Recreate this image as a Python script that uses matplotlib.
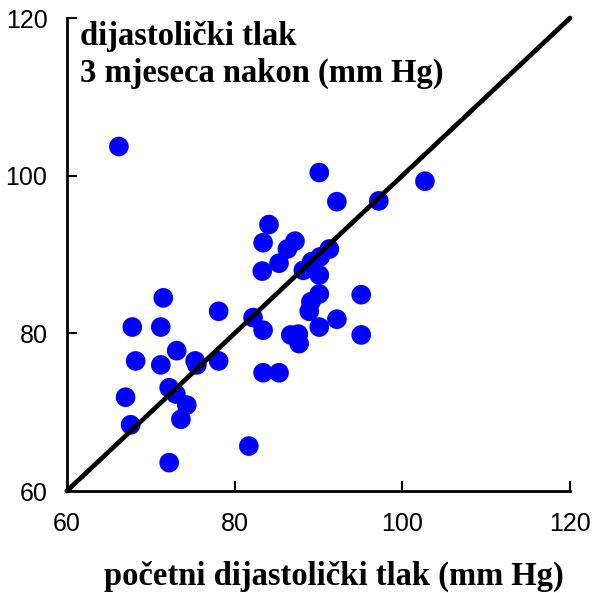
import matplotlib
matplotlib.use("Agg")
import matplotlib.pyplot as plt

# baseline diastolic pressure (x) and 3 months later (y), mm Hg
baseline = [66.2, 90.1, 102.7, 92.2, 97.2, 84.1, 83.4, 87.2, 86.3, 85.3,
            83.3, 88.2, 89.2, 90.2, 91.3, 90.1, 90.1, 89.1, 88.9, 95.1,
            82.2, 83.4, 92.2, 90.1, 86.7, 87.6, 87.7, 95.1, 71.5, 78.1,
            67.8, 71.2, 68.2, 71.2, 73.1, 75.3, 75.5, 78.1, 83.4, 85.3,
            67.0, 67.6, 72.2, 73.0, 74.3, 73.6, 81.7, 72.2]
after3m = [103.7, 100.4, 99.3, 96.7, 96.8, 93.8, 91.5, 91.7, 90.7, 88.9,
           87.9, 88.0, 89.1, 89.7, 90.7, 87.4, 85.0, 84.0, 82.8, 84.9,
           82.0, 80.4, 81.8, 80.8, 79.8, 79.9, 78.7, 79.8, 84.5, 82.8,
           80.8, 80.8, 76.5, 76.0, 77.8, 76.5, 76.0, 76.5, 75.0, 75.0,
           71.9, 68.4, 73.1, 72.3, 70.9, 69.1, 65.7, 63.6]

ticks = [60, 80, 100, 120]
tick_labels = ["60", "80", "100", "120"]
identity = [60, 120]

ylabel_lines = ["dijastolički tlak", "3 mjeseca nakon (mm Hg)"]
xlabel = "početni dijastolički tlak (mm Hg)"

W, H = 608, 593
fig = plt.figure(figsize=(W / 100, H / 100), dpi=100)
ax = fig.add_axes([0.110, 0.172, 0.8275, 0.7976])

ax.scatter(baseline, after3m, s=200, color="#0000FF", edgecolors="none",
           zorder=2, clip_on=False)
ax.plot(identity, identity, color="black", linewidth=3.4,
        solid_capstyle="round", zorder=3, clip_on=False)

ax.set_xlim(60, 120)
ax.set_ylim(60, 120)
ax.set_xticks(ticks)
ax.set_xticklabels(tick_labels)
ax.set_yticks(ticks)
ax.set_yticklabels(tick_labels)

for s in ["top", "right"]:
    ax.spines[s].set_visible(False)
for s in ["left", "bottom"]:
    ax.spines[s].set_linewidth(2)
    ax.spines[s].set_color("black")

ax.tick_params(axis="both", direction="in", length=7, width=1.5,
               labelsize=18, colors="black")
ax.tick_params(axis="x", pad=15)
ax.tick_params(axis="y", pad=14)
for lbl in ax.get_xticklabels() + ax.get_yticklabels():
    lbl.set_fontfamily("Liberation Sans")

for line, base_px in zip(ylabel_lines, [45, 82]):
    fig.text(80 / W, 1 - base_px / H, line, ha="left", va="baseline",
             fontfamily="Liberation Serif", fontweight="bold", fontsize=23.5)

fig.text(334 / W, 1 - 585 / H, xlabel, ha="center", va="baseline",
         fontfamily="Liberation Serif", fontweight="bold", fontsize=23.5)

fig.savefig("out.png", dpi=100)
